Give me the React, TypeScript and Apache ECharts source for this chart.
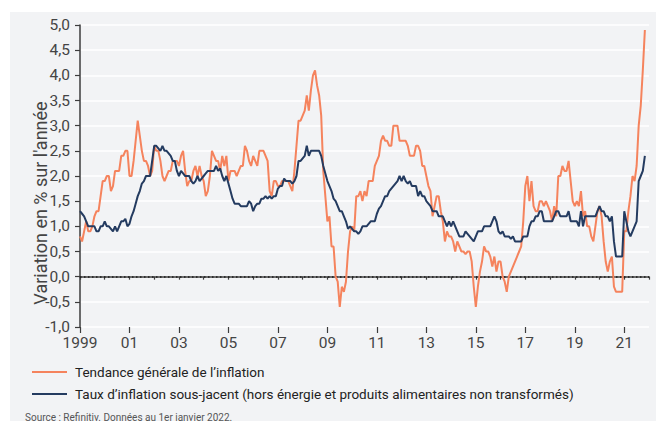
import React, { useEffect, useRef } from "react";
import * as echarts from "echarts";

const FONT = "Roboto, 'Noto Sans', sans-serif";
const START_YEAR = 1999;

// Monthly values, Jan 1999 .. Nov 2021
const headline = [
  0.8, 0.7, 0.9, 1.1, 0.9, 0.9, 1.0, 1.2, 1.3, 1.3, 1.6, 1.9,
  1.9, 2.0, 2.0, 1.7, 1.8, 2.1, 2.1, 2.1, 2.4, 2.4, 2.5, 2.5,
  2.0, 2.0, 2.3, 2.7, 3.1, 2.8, 2.5, 2.3, 2.3, 2.2, 2.0, 2.1,
  2.6, 2.5, 2.5, 2.3, 2.0, 1.9, 2.0, 2.1, 2.1, 2.3, 2.3, 2.3,
  2.2, 2.4, 2.5, 2.1, 1.8, 1.9, 1.9, 2.1, 2.2, 2.0, 2.2, 2.0,
  1.9, 1.6, 1.7, 2.0, 2.5, 2.4, 2.3, 2.3, 2.1, 2.4, 2.2, 2.4,
  1.9, 2.1, 2.1, 2.1, 2.0, 2.1, 2.2, 2.2, 2.6, 2.5, 2.3, 2.2,
  2.4, 2.3, 2.2, 2.5, 2.5, 2.5, 2.4, 2.3, 1.7, 1.6, 1.9, 1.9,
  1.8, 1.8, 1.9, 1.9, 1.9, 1.9, 1.8, 1.7, 2.1, 2.6, 3.1, 3.1,
  3.2, 3.3, 3.6, 3.3, 3.7, 4.0, 4.1, 3.8, 3.6, 3.2, 2.1, 1.6,
  1.1, 1.2, 0.6, 0.6, 0.0, -0.1, -0.6, -0.2, -0.3, -0.1, 0.5, 0.9,
  1.0, 0.9, 1.6, 1.6, 1.7, 1.5, 1.7, 1.6, 1.9, 1.9, 1.9, 2.2,
  2.3, 2.4, 2.7, 2.8, 2.7, 2.7, 2.6, 2.6, 3.0, 3.0, 3.0, 2.7,
  2.7, 2.7, 2.7, 2.6, 2.4, 2.4, 2.4, 2.6, 2.6, 2.5, 2.2, 2.2,
  2.0, 1.8, 1.7, 1.2, 1.4, 1.6, 1.6, 1.3, 1.1, 0.7, 0.9, 0.8,
  0.8, 0.7, 0.5, 0.7, 0.6, 0.5, 0.5, 0.45, 0.5, 0.5, 0.3, -0.2,
  -0.6, -0.2, 0.1, 0.3, 0.6, 0.5, 0.5, 0.4, 0.2, 0.4, 0.1, 0.3,
  0.3, 0.0, -0.1, -0.3, 0.0, 0.1, 0.2, 0.3, 0.4, 0.5, 0.6, 1.1,
  1.8, 2.0, 1.5, 1.9, 1.4, 1.3, 1.3, 1.5, 1.5, 1.4, 1.5, 1.4,
  1.3, 1.1, 1.4, 1.2, 2.0, 2.0, 2.2, 2.1, 2.1, 2.3, 1.9, 1.5,
  1.4, 1.5, 1.4, 1.7, 1.2, 1.3, 1.0, 1.0, 0.8, 0.7, 1.0, 1.3,
  1.4, 1.2, 0.7, 0.3, 0.1, 0.3, 0.4, -0.2, -0.3, -0.3, -0.3, -0.3,
  0.9, 0.9, 1.3, 1.6, 2.0, 1.9, 2.2, 3.0, 3.4, 4.1, 4.9,
];

const core = [
  1.3, 1.25, 1.2, 1.1, 1.0, 1.0, 1.0, 1.0, 0.9, 0.9, 1.0, 1.0,
  1.1, 1.0, 1.0, 0.95, 0.9, 1.0, 0.9, 1.0, 1.1, 1.1, 1.15, 1.0,
  1.05, 1.2, 1.3, 1.45, 1.6, 1.7, 1.85, 1.9, 2.0, 2.0, 2.0, 2.3,
  2.6, 2.6, 2.55, 2.5, 2.6, 2.5, 2.5, 2.45, 2.4, 2.3, 2.3, 2.1,
  2.0, 2.1, 2.05, 2.0, 2.0, 2.0, 1.9, 1.85, 1.9, 2.0, 1.9, 1.95,
  2.0, 2.05, 2.1, 2.1, 2.1, 2.1, 2.2, 2.1, 2.15, 2.0, 1.9, 2.0,
  1.85, 1.7, 1.55, 1.45, 1.45, 1.45, 1.4, 1.4, 1.4, 1.4, 1.5, 1.45,
  1.3, 1.4, 1.45, 1.45, 1.55, 1.55, 1.6, 1.55, 1.6, 1.55, 1.6, 1.6,
  1.75, 1.8, 1.8, 1.95, 1.9, 1.9, 1.9, 1.85, 1.9, 2.0, 2.3, 2.3,
  2.35, 2.4, 2.6, 2.4, 2.5, 2.5, 2.5, 2.5, 2.5, 2.4, 2.2, 2.05,
  1.9, 1.8, 1.7, 1.55, 1.5, 1.4, 1.3, 1.3, 1.2, 1.1, 0.95, 1.0,
  0.95, 0.9, 0.9, 0.85, 0.9, 1.0, 1.0, 1.0, 1.05, 1.1, 1.1, 1.1,
  1.25, 1.35, 1.4, 1.5, 1.6, 1.6, 1.7, 1.75, 1.8, 1.85, 1.9, 2.0,
  1.9, 2.0, 1.9, 1.85, 1.9, 1.8, 1.8, 1.8, 1.6, 1.7, 1.6, 1.6,
  1.5, 1.45, 1.4, 1.3, 1.3, 1.3, 1.2, 1.2, 1.2, 1.1, 1.0, 1.1,
  1.0, 1.1, 1.0, 0.9, 0.8, 0.8, 0.8, 0.9, 0.85, 0.8, 0.75, 0.7,
  0.8, 0.9, 0.9, 0.9, 1.0, 1.0, 1.0, 1.0, 1.1, 1.2, 1.1, 0.9,
  0.85, 0.9, 0.8, 0.8, 0.8, 0.75, 0.8, 0.7, 0.7, 0.7, 0.7, 0.8,
  0.8, 0.8, 1.0, 1.1, 1.1, 1.2, 1.2, 1.3, 1.3, 1.1, 1.1, 1.1,
  1.1, 1.1, 1.2, 1.3, 1.3, 1.2, 1.2, 1.2, 1.2, 1.3, 1.1, 1.1,
  1.1, 1.1, 1.0, 1.3, 1.0, 1.2, 1.2, 1.2, 1.2, 1.2, 1.2, 1.3,
  1.4, 1.3, 1.3, 1.2, 1.2, 1.1, 1.2, 0.7, 0.4, 0.4, 0.4, 0.4,
  1.3, 1.1, 0.9, 0.8, 0.9, 1.0, 1.1, 1.9, 2.0, 2.1, 2.4,
];

const majorTickOffsets = [0, 2, 4, 6, 8, 10, 12, 14, 16, 18, 20, 22];
const yearTickOffsets = [0, 1, 2, 3, 4, 5, 6, 7, 8, 9, 10, 11, 12, 13, 14, 15, 16, 17, 18, 19, 20, 21, 22, 23];

const NAME_HEADLINE = "Tendance générale de l’inflation";
const NAME_CORE = "Taux d’inflation sous-jacent (hors énergie et produits alimentaires non transformés)";
const Y_NAME = "Variation en % sur l'année";
const SOURCE = "Source : Refinitiv. Données au 1er janvier 2022.";

const ORANGE = "#f5835d";
const NAVY = "#243b60";
const AXIS = "#3d3d3d";
const LABEL = "#444444";

export default function App() {
  const ref = useRef<HTMLDivElement>(null);

  useEffect(() => {
    if (!ref.current) return;
    const chart = echarts.init(ref.current, null, { renderer: "svg" });
    const toPts = (arr: number[]) => arr.map((v, i) => [i / 12, v]);

    chart.setOption({
      animation: false,
      textStyle: { fontFamily: FONT },
      grid: { left: 80, right: 7, top: 25, bottom: 94, containLabel: false },
      legend: {
        orient: "vertical",
        left: 27,
        top: 359,
        itemWidth: 35,
        itemHeight: 2,
        itemGap: 6,
        icon: "rect",
        selectedMode: false,
        textStyle: { fontSize: 13.5, color: "#222", lineHeight: 16, fontFamily: FONT, padding: [0, 0, 0, 3] },
        data: [NAME_HEADLINE, NAME_CORE],
      },
      graphic: [
        {
          type: "text",
          x: 40,
          y: 203,
          rotation: Math.PI / 2,
          silent: true,
          style: {
            text: Y_NAME,
            fontSize: 18,
            fill: LABEL,
            fontFamily: FONT,
            align: "center",
            verticalAlign: "middle",
          },
        },
        {
          type: "text",
          left: 25,
          top: 412,
          silent: true,
          style: { text: SOURCE, fontSize: 10, fill: "#555", fontFamily: FONT },
        },
      ],
      xAxis: [
        {
          type: "value",
          min: 0,
          max: 23,
          interval: 1,
          axisLine: { show: true, lineStyle: { color: AXIS, width: 1.5 } },
          axisTick: { show: true, length: 3, lineStyle: { color: AXIS, width: 1.2 }, customValues: yearTickOffsets },
          axisLabel: { show: false },
          splitLine: { show: false },
        },
        {
          type: "value",
          min: 0,
          max: 23,
          interval: 2,
          position: "bottom",
          axisLine: { show: false },
          axisTick: { show: true, length: 6, lineStyle: { color: AXIS, width: 1.2 }, customValues: majorTickOffsets },
          axisLabel: {
            show: true,
            customValues: majorTickOffsets,
            fontSize: 15.5,
            color: LABEL,
            fontFamily: FONT,
            margin: 8,
            formatter: (v: number) => {
              if (v > 22) return "";
              if (v === 0) return String(START_YEAR);
              return String((START_YEAR + v) % 100).padStart(2, "0");
            },
          },
          splitLine: { show: false },
        },
      ],
      yAxis: {
        type: "value",
        min: -1,
        max: 5,
        interval: 0.5,
        axisLine: { show: true, lineStyle: { color: AXIS, width: 1.5 } },
        axisTick: { show: true, length: 5, lineStyle: { color: AXIS, width: 1.2 } },
        axisLabel: {
          fontSize: 15.5,
          color: LABEL,
          fontFamily: FONT,
          margin: 10,
          formatter: (v: number) => v.toFixed(1).replace(".", ","),
        },
        splitLine: { show: true, lineStyle: { color: "#ffffff", width: 1.5 } },
      },
      series: [
        {
          name: NAME_HEADLINE,
          type: "line",
          data: toPts(headline),
          showSymbol: false,
          symbol: "none",
          lineStyle: { color: ORANGE, width: 2 },
          itemStyle: { color: ORANGE },
          z: 3,
          markLine: {
            silent: true,
            symbol: "none",
            label: { show: false },
            lineStyle: { color: "#1a1a1a", type: [1.5, 2.5], width: 1.6 },
            data: [{ yAxis: 0 }],
            z: 1,
          },
        },
        {
          name: NAME_CORE,
          type: "line",
          data: toPts(core),
          showSymbol: false,
          symbol: "none",
          lineStyle: { color: NAVY, width: 2 },
          itemStyle: { color: NAVY },
          z: 4,
        },
      ],
    });

    return () => chart.dispose();
  }, []);

  return (
    <div style={{ position: "fixed", left: 0, top: 0, width: 656, height: 421, background: "#ffffff", overflow: "hidden" }}>
      <div style={{ position: "absolute", left: 10, top: 12, width: 646, height: 409, background: "#f2f3f5" }} />
      <div ref={ref} style={{ position: "absolute", left: 0, top: 0, width: 656, height: 421 }} />
    </div>
  );
}
